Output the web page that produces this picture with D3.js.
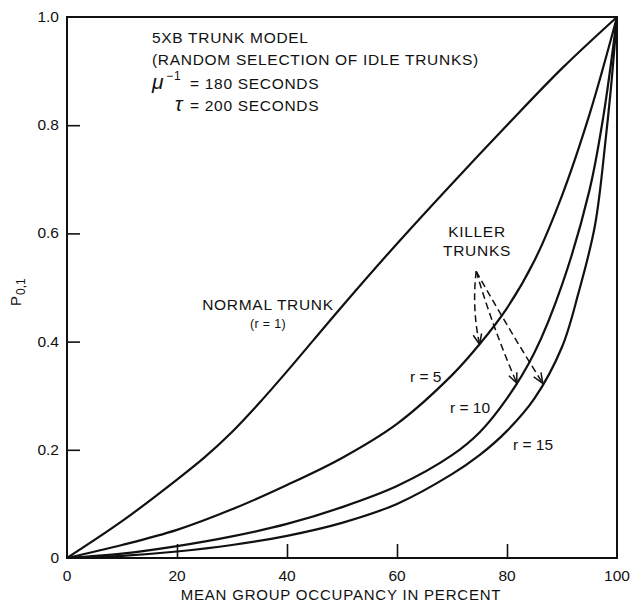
<!DOCTYPE html>
<html>
<head>
<meta charset="utf-8">
<script src="https://cdn.jsdelivr.net/npm/d3@7"></script>
<style>
  body { margin: 0; background: #fff; }
  svg text { font-family: "Liberation Sans", Arial, sans-serif; fill: #111; }
</style>
</head>
<body>
<div id="chart"></div>
<script>
// occupancy (%) / P0,1
var normalX = [0, 10, 20, 25, 30, 35, 40, 50, 60, 70, 80, 90, 100];
var normalP = [0, 0.068, 0.145, 0.186, 0.233, 0.287, 0.345, 0.465, 0.581, 0.692, 0.8, 0.905, 1.0];

var r5X = [0, 10, 20, 30, 40, 50, 60, 70, 75, 80, 85, 90, 95, 100];
var r5P = [0, 0.024, 0.052, 0.09, 0.135, 0.185, 0.248, 0.338, 0.395, 0.462, 0.55, 0.67, 0.82, 1];

var r10X = [0, 10, 20, 30, 40, 50, 60, 70, 75, 80, 85, 90, 95, 97.5, 100];
var r10P = [0, 0.008, 0.022, 0.04, 0.063, 0.094, 0.133, 0.19, 0.232, 0.295, 0.38, 0.505, 0.68, 0.815, 1];

var r15X = [0, 10, 20, 30, 40, 50, 60, 70, 75, 80, 85, 90, 93, 96, 98, 99, 100];
var r15P = [0, 0.004, 0.012, 0.024, 0.041, 0.065, 0.1, 0.155, 0.19, 0.235, 0.295, 0.39, 0.49, 0.615, 0.78, 0.88, 1];

var xTicks = [0, 20, 40, 60, 80, 100];
var yTicks = [0, 0.2, 0.4, 0.6, 0.8, 1.0];
var yTickLabels = ["0", "0.2", "0.4", "0.6", "0.8", "1.0"];

// killer trunk arrows: start point and tip, in data units
var arrowFrom = [74.4, 0.53];
var arrowTipsX = [75, 81.8, 86.5];
var arrowTipsP = [0.395, 0.323, 0.323];

var width = 632, height = 605;

var svg = d3.select("#chart").append("svg")
  .attr("width", width)
  .attr("height", height)

var x = d3.scaleLinear().domain([0, 100]).range([67, 617]);
var y = d3.scaleLinear().domain([0, 1]).range([558, 17]);

var frame = svg.append("g")

// box
frame.append("rect")
  .attr("x", x(0))
  .attr("y", y(1))
  .attr("width", x(100) - x(0))
  .attr("height", y(0) - y(1))
  .attr("fill", "none")
  .attr("stroke", "#111")
  .attr("stroke-width", 2)

// inward ticks
var xAxis = d3.axisTop(x)
  .tickValues(xTicks.slice(1, -1))
  .tickSize(14)
  .tickFormat("")
frame.append("g")
  .attr("transform", "translate(0," + y(0) + ")")
  .call(xAxis)
  .call(function (g) { g.select(".domain").remove() })
  .selectAll("line").attr("stroke", "#111").attr("stroke-width", 1.6)

var yAxis = d3.axisRight(y)
  .tickValues(yTicks.slice(1, -1))
  .tickSize(13)
  .tickFormat("")
frame.append("g")
  .attr("transform", "translate(" + x(0) + ",0)")
  .call(yAxis)
  .call(function (g) { g.select(".domain").remove() })
  .selectAll("line").attr("stroke", "#111").attr("stroke-width", 1.6)

// tick labels
svg.append("g").selectAll("text")
  .data(xTicks)
  .enter().append("text")
  .attr("x", function (d) { return x(d) })
  .attr("y", 581)
  .attr("text-anchor", "middle")
  .attr("font-size", 15.5)
  .text(function (d) { return d })

svg.append("g").selectAll("text")
  .data(yTicks)
  .enter().append("text")
  .attr("x", 59)
  .attr("y", function (d) { return y(d) + 5 })
  .attr("text-anchor", "end")
  .attr("font-size", 15.5)
  .text(function (d, i) { return yTickLabels[i] })

// axis titles
svg.append("text")
  .attr("x", 341)
  .attr("y", 600)
  .attr("text-anchor", "middle")
  .attr("font-size", 15)
  .attr("letter-spacing", 0.8)
  .text("MEAN GROUP OCCUPANCY IN PERCENT")

var ytitle = svg.append("text")
  .attr("transform", "translate(21,306) rotate(-90)")
  .attr("font-size", 15)
ytitle.append("tspan").text("P")
ytitle.append("tspan").attr("font-size", 12).attr("dy", 4).attr("dx", 1).text("0,1")

// curves
var line = d3.line()
  .x(function (d) { return x(d[0]) })
  .y(function (d) { return y(d[1]) })
  .curve(d3.curveCatmullRom.alpha(0.5))

var series = [[normalX, normalP], [r5X, r5P], [r10X, r10P], [r15X, r15P]];
svg.append("g").selectAll("path")
  .data(series)
  .enter().append("path")
  .attr("d", function (s) { return line(d3.zip(s[0], s[1])) })
  .attr("fill", "none")
  .attr("stroke", "#111")
  .attr("stroke-width", 2.2)

// arrows
var arrows = svg.append("g")
arrowTipsX.forEach(function (tx, i) {
  var x0 = x(arrowFrom[0]), y0 = y(arrowFrom[1]);
  var x1 = x(tx), y1 = y(arrowTipsP[i]);
  var cx = (x0 + x1) / 2 - 6 + i * 2, cy = (y0 + y1) / 2;
  arrows.append("path")
    .attr("d", "M" + x0 + "," + y0 + " Q" + cx + "," + cy + " " + x1 + "," + y1)
    .attr("fill", "none")
    .attr("stroke", "#111")
    .attr("stroke-width", 1.5)
    .attr("stroke-dasharray", "7,4")
  var ang = Math.atan2(y1 - cy, x1 - cx);
  var len = 11, spread = 0.4;
  var a1 = [x1 - len * Math.cos(ang - spread), y1 - len * Math.sin(ang - spread)];
  var a2 = [x1 - len * Math.cos(ang + spread), y1 - len * Math.sin(ang + spread)];
  arrows.append("path")
    .attr("d", "M" + a1 + " L" + x1 + "," + y1 + " L" + a2)
    .attr("fill", "none")
    .attr("stroke", "#111")
    .attr("stroke-width", 1.5)
})

// annotations
var notes = svg.append("g").attr("font-size", 15.5).attr("letter-spacing", 0.7)
notes.append("text").attr("x", 152).attr("y", 43).text("5XB TRUNK MODEL")
notes.append("text").attr("x", 152).attr("y", 65).text("(RANDOM SELECTION OF IDLE TRUNKS)")
var mu = notes.append("text").attr("x", 152).attr("y", 89)
mu.append("tspan").attr("font-style", "italic").attr("font-size", 21).text("\u03bc")
mu.append("tspan").attr("font-size", 12).attr("dy", -9).attr("dx", 2).text("\u22121")
mu.append("tspan").attr("dy", 9).attr("x", 190).text("= 180 SECONDS")
var tau = notes.append("text").attr("x", 175).attr("y", 111)
tau.append("tspan").attr("font-style", "italic").attr("font-size", 20).text("\u03c4")
tau.append("tspan").attr("x", 190).text("= 200 SECONDS")

notes.append("text").attr("x", 268).attr("y", 310).attr("text-anchor", "middle").text("NORMAL TRUNK")
notes.append("text").attr("x", 268).attr("y", 328).attr("text-anchor", "middle").attr("font-size", 12.5).attr("letter-spacing", 0.3).text("(r = 1)")
notes.append("text").attr("x", 477).attr("y", 237).attr("text-anchor", "middle").text("KILLER")
notes.append("text").attr("x", 477).attr("y", 256).attr("text-anchor", "middle").text("TRUNKS")
notes.append("text").attr("x", 410).attr("y", 382).attr("letter-spacing", 0).text("r = 5")
notes.append("text").attr("x", 450).attr("y", 413).attr("letter-spacing", 0).text("r = 10")
notes.append("text").attr("x", 513).attr("y", 450).attr("letter-spacing", 0).text("r = 15")
</script>
</body>
</html>
